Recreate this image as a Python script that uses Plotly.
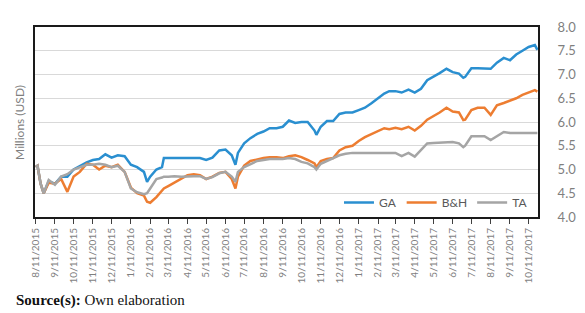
import plotly.graph_objects as go

dates = [
    "2015-08-11", "2015-08-14", "2015-08-19", "2015-08-24", "2015-09-01", "2015-09-11", "2015-09-21",
    "2015-10-01", "2015-10-11", "2015-10-21", "2015-11-01", "2015-11-11", "2015-11-21", "2015-12-01",
    "2015-12-11", "2015-12-21", "2016-01-01", "2016-01-11", "2016-01-21", "2016-02-01", "2016-02-06",
    "2016-02-11", "2016-02-21", "2016-03-01", "2016-03-04", "2016-03-11", "2016-03-21", "2016-04-01",
    "2016-04-11", "2016-04-21", "2016-05-01", "2016-05-11", "2016-05-21", "2016-06-01", "2016-06-11",
    "2016-06-21", "2016-06-27", "2016-07-01", "2016-07-11", "2016-07-21", "2016-08-01", "2016-08-11",
    "2016-08-21", "2016-09-01", "2016-09-11", "2016-09-21", "2016-10-01", "2016-10-11", "2016-10-21",
    "2016-11-01", "2016-11-04", "2016-11-11", "2016-11-21", "2016-12-01", "2016-12-11", "2016-12-21",
    "2017-01-01", "2017-01-11", "2017-01-21", "2017-02-01", "2017-02-11", "2017-02-21", "2017-03-01",
    "2017-03-11", "2017-03-21", "2017-04-01", "2017-04-11", "2017-04-21", "2017-05-01", "2017-05-11",
    "2017-05-21", "2017-06-01", "2017-06-11", "2017-06-21", "2017-06-28", "2017-07-01", "2017-07-11",
    "2017-07-21", "2017-08-01", "2017-08-11", "2017-08-21", "2017-09-01", "2017-09-11", "2017-09-21",
    "2017-10-01", "2017-10-11", "2017-10-21", "2017-10-25",
]

ga = [
    5.05, 5.08, 4.70, 4.50, 4.75, 4.70, 4.85,
    4.85, 5.00, 5.08, 5.15, 5.20, 5.22, 5.32,
    5.25, 5.30, 5.28, 5.10, 5.05, 4.95, 4.74,
    4.85, 5.00, 5.05, 5.24, 5.24, 5.24, 5.24,
    5.24, 5.24, 5.24, 5.20, 5.25, 5.40, 5.42,
    5.30, 5.10, 5.35, 5.55, 5.66, 5.75, 5.80,
    5.87, 5.87, 5.90, 6.03, 5.98, 6.00, 6.00,
    5.82, 5.73, 5.90, 6.02, 6.02, 6.17, 6.20,
    6.20, 6.25, 6.30, 6.40, 6.50, 6.60, 6.65,
    6.65, 6.62, 6.68, 6.62, 6.70, 6.88, 6.95,
    7.03, 7.12, 7.05, 7.02, 6.93, 6.95, 7.13,
    7.13, 7.13, 7.12, 7.25, 7.35, 7.30, 7.42,
    7.50, 7.58, 7.62, 7.52,
]

bh = [
    5.05, 5.08, 4.70, 4.50, 4.72, 4.70, 4.80,
    4.53, 4.85, 4.95, 5.12, 5.10, 5.00, 5.08,
    5.05, 5.10, 4.95, 4.62, 4.50, 4.45, 4.32,
    4.30, 4.42, 4.55, 4.60, 4.65, 4.72, 4.80,
    4.88, 4.90, 4.88, 4.80, 4.85, 4.93, 4.95,
    4.80, 4.60, 4.85, 5.08, 5.18, 5.22, 5.24,
    5.26, 5.26, 5.24, 5.28, 5.30, 5.26, 5.20,
    5.13, 5.05, 5.18, 5.22, 5.24, 5.40, 5.47,
    5.50, 5.60, 5.68, 5.75, 5.82, 5.87, 5.85,
    5.88, 5.85, 5.90, 5.82, 5.92, 6.05, 6.12,
    6.20, 6.30, 6.22, 6.20, 6.04, 6.05, 6.25,
    6.30, 6.30, 6.15, 6.35, 6.40, 6.45, 6.50,
    6.57, 6.62, 6.67, 6.64,
]

ta = [
    5.05, 5.08, 4.70, 4.50, 4.78, 4.68, 4.85,
    4.90, 5.00, 5.05, 5.10, 5.10, 5.12, 5.10,
    5.05, 5.08, 4.95, 4.60, 4.52, 4.48, 4.50,
    4.60, 4.80, 4.83, 4.85, 4.85, 4.86, 4.85,
    4.86, 4.86, 4.86, 4.80, 4.84, 4.92, 4.95,
    4.85, 4.74, 4.95, 5.05, 5.12, 5.18, 5.20,
    5.22, 5.22, 5.22, 5.24, 5.22, 5.16, 5.13,
    5.05, 5.00, 5.12, 5.18, 5.25, 5.30, 5.33,
    5.35, 5.35, 5.35, 5.35, 5.35, 5.35, 5.35,
    5.35, 5.28, 5.35, 5.27, 5.40, 5.55, 5.56,
    5.57, 5.58, 5.58, 5.55, 5.47, 5.50, 5.70,
    5.70, 5.70, 5.62, 5.70, 5.79, 5.77, 5.77,
    5.77, 5.77, 5.77, 5.77,
]

series_names = ["GA", "B&H", "TA"]
series_colors = ["#2A8FD0", "#ED7D31", "#A5A5A5"]
y_ticks = [4.0, 4.5, 5.0, 5.5, 6.0, 6.5, 7.0, 7.5, 8.0]

fig = go.Figure()
for name, vals, col in zip(series_names, [ga, bh, ta], series_colors):
    fig.add_trace(go.Scatter(
        x=dates, y=vals, name=name, mode="lines",
        line=dict(color=col, width=2.5),
    ))

fig.update_layout(
    width=585, height=313,
    margin=dict(l=35, r=47, t=27, b=96),
    paper_bgcolor="white", plot_bgcolor="white",
    font=dict(family="Lato, Open Sans, sans-serif", color="#595959"),
    showlegend=True,
    legend=dict(
        orientation="h", x=0.99, y=0.0, xanchor="right", yanchor="bottom",
        bgcolor="rgba(255,255,255,0)", font=dict(size=12, color="#595959"),
        itemwidth=30, tracegroupgap=0,
    ),
    xaxis=dict(
        type="date", range=["2015-08-10", "2017-10-26"],
        tick0="2015-08-11", dtick="M1", tickformat="%-m/%-d/%Y",
        tickangle=-90, ticks="outside", ticklen=5, tickcolor="#404040",
        tickfont=dict(size=10, color="#7F7F7F"),
        showgrid=False, showline=True, linecolor="#1a1a1a", linewidth=2,
        mirror=True, zeroline=False, automargin=False,
    ),
    yaxis=dict(
        range=[4.0, 8.0], tickvals=y_ticks, tickformat=".1f", side="right",
        tickfont=dict(size=13, color="#7F7F7F"), ticks="", ticklabelstandoff=15,
        showgrid=True, gridcolor="#D9D9D9", gridwidth=1,
        showline=True, linecolor="#1a1a1a", linewidth=2, mirror=True, zeroline=False,
        automargin=False,
    ),
    annotations=[
        dict(text="Millions (USD)", xref="paper", yref="paper", x=-0.032, y=0.5,
             textangle=-90, showarrow=False, xanchor="center", yanchor="middle",
             font=dict(size=12, color="#7F7F7F")),
        dict(text="<b>Source(s):</b> Own elaboration", xref="paper", yref="paper",
             x=-0.042, y=-0.437, showarrow=False, xanchor="left", yanchor="middle",
             font=dict(size=15, color="#111111", family="Liberation Serif, Times New Roman, serif")),
    ],
)

fig.write_html(
    "out.html",
    config={"displayModeBar": False},
    post_script="document.body.style.margin='0';document.body.style.padding='0';",
)
